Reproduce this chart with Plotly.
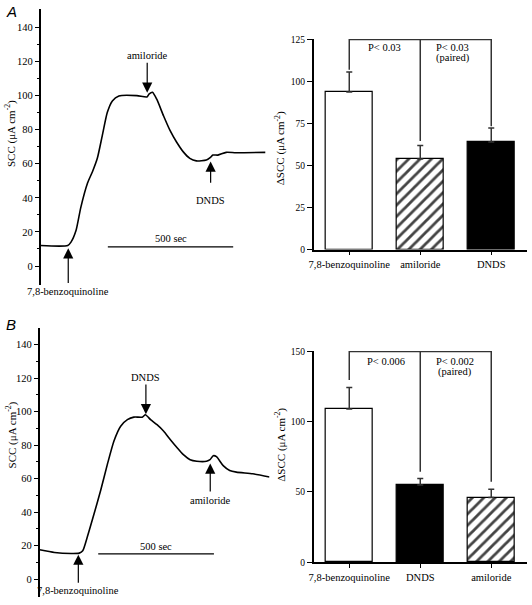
import plotly.graph_objects as go

W, H = 532, 605
def px(x): return x / W
def py(y): return 1 - y / H

SERIF = "Liberation Serif"

# ---------------- Panel A: SCC trace ----------------
tA_time = [0, 108, 121, 141, 160, 187, 207, 226, 246, 266, 286, 312, 384, 424, 433, 446,
           463, 490, 516, 542, 569, 595, 621, 661, 676, 687, 707, 740, 779, 897]
tA_scc = [12, 12, 14, 20.8, 34.3, 48.7, 55.5, 63.2, 76.7, 90.2, 96.9, 99.8, 100, 99.2, 101, 102,
          97.9, 88.2, 79.6, 72.8, 67, 63.2, 61.7, 62.2, 63.6, 65.1, 65.1, 66.7, 66.5, 66.7]
tA_arrows = [  # (label, time, head, tail, label_y)
    ("amiloride", 425, 101.7, 120.2, 123.7),
    ("DNDS", 678, 61.3, 48.0, 38.2),
    ("7,8-benzoquinoline", 110, 10.4, -10.8, -10.8),
]
tA_scale = (268, 500, 11.2, 16.2)  # start, length (sec), bar y, label y

# ---------------- Panel B: SCC trace ----------------
tB_time = [0, 64, 136, 171, 186, 207, 236, 264, 293, 321, 350, 379, 407, 443, 457, 479,
           507, 536, 564, 593, 621, 650, 679, 721, 736, 750, 764, 793, 821, 850, 921, 993]
tB_scc = [17.6, 16.0, 15.4, 15.6, 17.0, 25.8, 39.5, 53.2, 68.8, 82.5, 91.3, 95.2, 96.7, 96.7, 98.1, 95.2,
          92.2, 88.3, 83.4, 78.6, 74.3, 71.3, 70.4, 70.4, 71.3, 73.7, 73.1, 67.8, 64.9, 63.9, 62.9, 61.0]
tB_arrows = [
    ("DNDS", 459, 98.4, 117.0, 120.4),
    ("amiloride", 737, 69.0, 51.4, 47.0),
    ("7,8-benzoquinoline", 167, 14.7, -3.0, -6.9),
]
tB_scale = (253, 500, 15.1, 19.6)

# ---------------- Bar charts ----------------
catsA = ["7,8-benzoquinoline", "amiloride", "DNDS"]
meanA = [93.7, 53.9, 64.0]
semA = [11.9, 8.0, 8.4]
fillA = ["white", "white", "black"]
hatchA = ["", "/", ""]
bracketA_top = 125
bracketA_ends = [107, 64.6, 73.4]

catsB = ["7,8-benzoquinoline", "DNDS", "amiloride"]
meanB = [109.1, 54.9, 46.0]
semB = [15.2, 4.7, 5.9]
fillB = ["white", "black", "white"]
hatchB = ["", "", "/"]
bracketB_top = 150
bracketB_ends = [129.6, 64.3, 57.3]

fig = go.Figure()
annotations = []

def add_trace_panel(xa, ya, times, vals, arrows, scale, bottom):
    fig.add_trace(go.Scatter(x=times, y=vals, mode="lines", xaxis=xa, yaxis=ya,
                             line=dict(color="black", width=1.6, shape="spline", smoothing=0.6),
                             showlegend=False, hoverinfo="skip"))
    s0, slen, sy, sly = scale
    fig.add_trace(go.Scatter(x=[s0, s0 + slen], y=[sy, sy], mode="lines", xaxis=xa, yaxis=ya,
                             line=dict(color="black", width=1.2), showlegend=False, hoverinfo="skip"))
    annotations.append(dict(x=s0 + slen / 2, y=sly, xref=xa, yref=ya, text="500 sec",
                            showarrow=False, font=dict(family=SERIF, size=10.5, color="black")))
    for label, t, head, tail, ly in arrows:
        annotations.append(dict(x=t, y=head, ax=t, ay=tail, xref=xa, yref=ya, axref=xa, ayref=ya,
                                text="", showarrow=True, arrowhead=2, arrowsize=1.7,
                                arrowwidth=1.2, arrowcolor="black"))
        shift = -7 if ly <= bottom else 0
        annotations.append(dict(x=t, y=max(ly, bottom), xref=xa, yref=ya, text=label, showarrow=False,
                                yshift=shift, font=dict(family=SERIF, size=10.5, color="black")))

def add_bar_panel(xa, ya, cats, means, sems, fills, hatches, top, ends):
    fig.add_trace(go.Bar(x=cats, y=means, xaxis=xa, yaxis=ya, width=0.67,
                         marker=dict(color=fills, line=dict(color="black", width=1.2),
                                     pattern=dict(shape=hatches, fgcolor="black", bgcolor="white",
                                                  fgopacity=1, size=8, solidity=0.35)),
                         error_y=dict(type="data", symmetric=False, array=sems,
                                      arrayminus=[0] * len(sems), color="#333", thickness=1.5, width=3),
                         showlegend=False, hoverinfo="skip"))
    bx = [cats[0], cats[0], cats[2], cats[2], None, cats[1], cats[1]]
    by = [ends[0], top, top, ends[2], None, top, ends[1]]
    fig.add_trace(go.Scatter(x=bx, y=by, mode="lines", xaxis=xa, yaxis=ya,
                             line=dict(color="#333", width=1.5), showlegend=False, hoverinfo="skip"))

add_trace_panel("x", "y", tA_time, tA_scc, tA_arrows, tA_scale, -10.8)
add_trace_panel("x2", "y2", tB_time, tB_scc, tB_arrows, tB_scale, -10.4)
add_bar_panel("x3", "y3", catsA, meanA, semA, fillA, hatchA, bracketA_top, bracketA_ends)
add_bar_panel("x4", "y4", catsB, meanB, semB, fillB, hatchB, bracketB_top, bracketB_ends)

tickfont = dict(family=SERIF, size=10.5, color="black")
trace_y = dict(showline=True, linecolor="black", linewidth=1.5, ticks="outside", ticklen=4,
               tickwidth=1, tickcolor="black", tickvals=[0, 20, 40, 60, 80, 100, 120, 140],
               minor=dict(ticks="outside", ticklen=2, tickcolor="black",
                          tickvals=[10, 30, 50, 70, 90, 110, 130]),
               showgrid=False, zeroline=False, tickfont=tickfont)
bar_x = dict(type="category", showline=True, linecolor="black", linewidth=1.5, ticks="outside",
             ticklen=4, tickcolor="black", showgrid=False, tickfont=dict(family=SERIF, size=10.5, color="black"))
bar_y = dict(showline=True, linecolor="black", linewidth=1.5, ticks="outside", ticklen=5,
             tickcolor="black", showgrid=False, zeroline=False, tickfont=dict(family=SERIF, size=9.5, color="black"))

fig.update_layout(
    width=W, height=H, margin=dict(l=0, r=0, t=0, b=0),
    paper_bgcolor="white", plot_bgcolor="white", showlegend=False, bargap=0,
    xaxis=dict(domain=[px(36), px(263)], range=[0, 897], visible=False, anchor="y"),
    yaxis=dict(domain=[py(285), py(5)], range=[-11, 150.9], anchor="x", **trace_y),
    xaxis2=dict(domain=[px(35), px(267)], range=[0, 993], visible=False, anchor="y2"),
    yaxis2=dict(domain=[py(602), py(329)], range=[-10.6, 149.8], anchor="x2", **trace_y),
    xaxis3=dict(domain=[px(311.7), px(526.7)], anchor="y3", range=[-0.5, 2.5], **bar_x),
    yaxis3=dict(domain=[py(249.3), py(35.5)], range=[0, 125.3], anchor="x3",
                tickvals=[0, 25, 50, 75, 100, 125], **bar_y),
    xaxis4=dict(domain=[px(311.7), px(526.7)], anchor="y4", range=[-0.5, 2.5], **bar_x),
    yaxis4=dict(domain=[py(566.7), py(352.2)], range=[0, 150.3], anchor="x4",
                tickvals=[0, 50, 100, 150], **bar_y),
)

txt = dict(family=SERIF, size=10.5, color="black")
# Bar-chart labels
annotations += [
    dict(x=0, y=130.8, xref="x3", yref="y3", text="n=5", showarrow=False, font=txt, xshift=-27),
    dict(x=0.5, y=120, xref="x3", yref="y3", text="P< 0.03", showarrow=False, font=txt),
    dict(x=1.46, y=120, xref="x3", yref="y3", text="P< 0.03", showarrow=False, font=txt),
    dict(x=1.46, y=113.8, xref="x3", yref="y3", text="(paired)", showarrow=False, font=txt),
    dict(x=0, y=156.5, xref="x4", yref="y4", text="n=6", showarrow=False, font=txt, xshift=-27),
    dict(x=0.52, y=143, xref="x4", yref="y4", text="P< 0.006", showarrow=False, font=txt),
    dict(x=1.49, y=143, xref="x4", yref="y4", text="P< 0.002", showarrow=False, font=txt),
    dict(x=1.49, y=135.5, xref="x4", yref="y4", text="(paired)", showarrow=False, font=txt),
]
# Axis titles
ttl = dict(family=SERIF, size=11, color="black")
for x, y, t in [(5, 131, "SCC (μA cm<sup>-2</sup>)"), (7, 437, "SCC (μA cm<sup>-2</sup>)"),
                (278, 146, "ΔSCC (μA cm<sup>-2</sup>)"), (278, 447, "ΔSCC (μA cm<sup>-2</sup>)")]:
    annotations.append(dict(x=px(x), y=py(y), xref="paper", yref="paper", text=t, textangle=-90,
                            xanchor="center", yanchor="middle", showarrow=False, font=ttl))
# Panel letters
for x, y, t in [(7, 8, "A"), (6, 325, "B")]:
    annotations.append(dict(x=px(x), y=py(y), xref="paper", yref="paper", text="<i>" + t + "</i>",
                            xanchor="center", yanchor="middle", showarrow=False,
                            font=dict(family="Liberation Sans", size=15, color="black")))

fig.update_layout(annotations=annotations)
fig.write_html("out.html", config={"displayModeBar": False},
               post_script="document.body.style.margin='0';document.body.style.overflow='hidden';")
